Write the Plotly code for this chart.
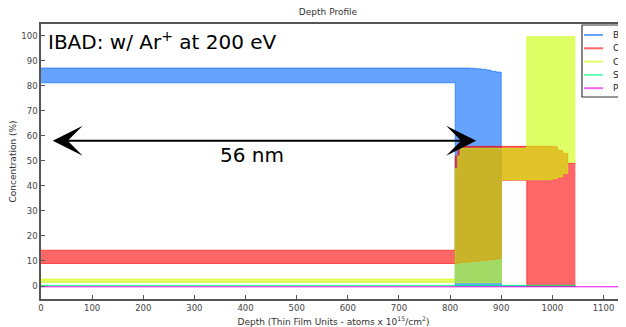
import plotly.graph_objects as go

# ---------------- data ----------------
depth = [0, 810, 815, 820, 830, 840, 850, 860, 870, 880, 890, 900, 950, 1000, 1010, 1020, 1030, 1045]

b_low  = [81.2, 0, 0, 0, 0, 0, 0, 0, 0, 0, 0, 0, 0, 0, 0, 0, 0, 0]
b_high = [87.1, 87.1, 87.1, 87.1, 87.1, 87.0, 86.8, 86.6, 86.3, 85.8, 85.5, 0, 0, 0, 0, 0, 0, 0]

o_low  = [9.0, 9.0, 9.2, 9.4, 9.6, 9.8, 10.0, 10.2, 10.4, 10.6, 11.0, 42.3, 0, 0, 0, 0, 0, 0]
o_high = [14.3, 52.0, 55.5, 55.8, 55.8, 55.8, 55.8, 55.8, 55.8, 55.8, 55.8, 55.8, 55.8, 55.6, 54.2, 53.0, 49.0, 49.0]

cu_low  = [1.5, 1.3, 1.3, 1.3, 1.3, 1.3, 1.3, 1.3, 1.3, 1.3, 1.3, 42.5, 42.5, 43.0, 43.6, 45.0, 49.5, 49.5]
cu_high = [2.8, 47.0, 52.0, 55.0, 55.0, 55.0, 55.0, 55.0, 55.0, 55.0, 55.0, 55.0, 99.6, 99.6, 99.6, 99.6, 99.6, 99.6]

sn_low  = [0.0] * 18
sn_high = [0.3, 0.3, 0.3, 0.3, 0.3, 0.3, 0.3, 0.3, 0.3, 0.3, 0.3, 0.3, 0.3, 0.3, 0.3, 0.3, 0.3, 0.3]

pb_depth = [0, 1150]
pb_low  = [-0.3, -0.3]
pb_high = [-0.3, -0.3]

elements = ["B", "O", "Cu", "Sn", "Pb"]
x_ticks = [0, 100, 200, 300, 400, 500, 600, 700, 800, 900, 1000, 1100]
y_ticks = [0, 10, 20, 30, 40, 50, 60, 70, 80, 90, 100]

# ---------------- styling ----------------
base_rgb = {"B": (0, 102, 255), "O": (255, 0, 0), "Cu": (204, 255, 0),
            "Sn": (0, 255, 127), "Pb": (230, 0, 230)}
ALPHA = 0.6
FONT = "DejaVu Sans"


def rgba(el, a=ALPHA):
    r, g, b = base_rgb[el]
    return f"rgba({r},{g},{b},{a})"


series = {
    "B": (depth, b_low, b_high),
    "O": (depth, o_low, o_high),
    "Cu": (depth, cu_low, cu_high),
    "Sn": (depth, sn_low, sn_high),
    "Pb": (pb_depth, pb_low, pb_high),
}

fig = go.Figure()
for el in elements:
    xs, lo, hi = series[el]
    fig.add_trace(go.Scatter(x=xs, y=lo, mode="lines", line=dict(color=rgba(el), width=1, shape="hv"),
                             showlegend=False, hoverinfo="skip"))
    fig.add_trace(go.Scatter(x=xs, y=hi, mode="lines", line=dict(color=rgba(el), width=1, shape="hv"),
                             fill="tonexty", fillcolor=rgba(el), name=el, showlegend=False))

# The page body has an 8 px margin, so the figure is laid out 8 px smaller
# and window-pixel positions are converted to figure positions.
OFF = 8
WIN_W, WIN_H = 626, 327
W, H = WIN_W - OFF, WIN_H - OFF
# plot area in window pixels
PL, PR, PT, PB = 41, 626, 24, 299


def px_x(p):
    return (p - PL) / (PR - PL)


def px_y(p):
    return (PB - p) / (PB - PT)


shapes = [dict(type="rect", xref="paper", yref="paper", x0=px_x(582), x1=px_x(670),
               y0=px_y(97), y1=px_y(25), line=dict(color="#333", width=1.2),
               fillcolor="white", layer="above")]
annotations = []
for i, el in enumerate(elements):
    yy = 35 + i * 13.3
    shapes.append(dict(type="line", xref="paper", yref="paper", x0=px_x(584), x1=px_x(603),
                       y0=px_y(yy), y1=px_y(yy), line=dict(color=rgba(el), width=2), layer="above"))
    annotations.append(dict(xref="paper", yref="paper", x=px_x(611), y=px_y(yy), text=el,
                            showarrow=False, xanchor="left", yanchor="middle",
                            font=dict(family=FONT, size=9, color="#222")))

# double-headed arrow and labels
annotations.append(dict(x=851, y=58, ax=20, ay=58, xref="x", yref="y", axref="x", ayref="y",
                        text="", showarrow=True, arrowhead=3, startarrowhead=3, arrowside="end+start",
                        arrowsize=2.5, startarrowsize=2.5, arrowwidth=2, arrowcolor="black"))
annotations.append(dict(x=413, y=52.3, xref="x", yref="y", text="56 nm", showarrow=False,
                        font=dict(family=FONT, size=20, color="black")))
annotations.append(dict(x=10.5, y=97.9, xref="x", yref="y", text="IBAD: w/ Ar<sup>+</sup> at 200 eV",
                        showarrow=False, xanchor="left", yanchor="middle",
                        font=dict(family=FONT, size=20, color="black")))

fig.update_layout(
    width=W, height=H,
    margin=dict(l=PL - OFF, r=WIN_W - PR, t=PT - OFF, b=WIN_H - PB, autoexpand=False),
    paper_bgcolor="white", plot_bgcolor="white",
    font=dict(family=FONT, size=9, color="#333"),
    title=dict(text="Depth Profile", x=(328 - OFF) / W, xanchor="center",
               y=1 - (12 - OFF) / H, yanchor="middle",
               font=dict(family=FONT, size=9, color="#333")),
    shapes=shapes, annotations=annotations, showlegend=False,
)
fig.update_xaxes(range=[0, 1144], tickvals=x_ticks, ticks="inside", ticklen=4, tickcolor="#555",
                 showline=True, linecolor="#555", linewidth=1.5, mirror=True, showgrid=False,
                 zeroline=False, tickfont=dict(family=FONT, size=8.5, color="#444"),
                 title=dict(text="Depth (Thin Film Units - atoms x 10<sup>15</sup>/cm<sup>2</sup>)",
                            font=dict(family=FONT, size=9, color="#333"), standoff=9))
fig.update_yaxes(range=[-5.19, 104.7], tickvals=y_ticks, ticks="inside", ticklen=4, tickcolor="#555",
                 showline=True, linecolor="#555", linewidth=1.5, mirror=False, showgrid=False,
                 zeroline=False, tickfont=dict(family=FONT, size=8.5, color="#444"),
                 title=dict(text="Concentration (%)", font=dict(family=FONT, size=9, color="#333"),
                            standoff=6))

fig.write_html("out.html")
